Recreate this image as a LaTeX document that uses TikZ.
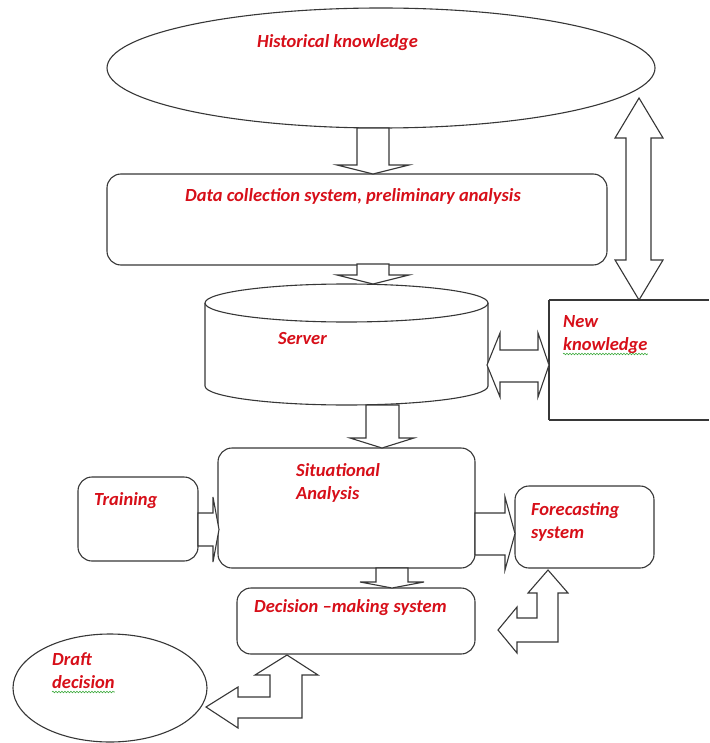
\documentclass[tikz,border=0pt]{standalone}
\usepackage{fontspec}
\setmainfont{Carlito}
\usetikzlibrary{decorations.pathmorphing}
\definecolor{lgray}{RGB}{55,55,55}
\definecolor{tred}{RGB}{215,15,25}
\definecolor{sqgreen}{RGB}{60,170,60}
\tikzset{
  shp/.style={draw=lgray, line width=1.1pt, fill=white},
  rbox/.style={shp, rounded corners=14pt},
  barrow/.style={draw=lgray, line width=1.1pt, fill=white, line join=miter},
  lbl/.style={anchor=base west, inner sep=0pt, text=tred, font=\bfseries\itshape\fontsize{18.5}{20}\selectfont},
  squig/.style={draw=sqgreen, line width=0.6pt, decorate, decoration={snake, amplitude=0.8pt, segment length=3pt}},
  edge/.style={draw=lgray, line width=1.1pt}
}
\begin{document}
\begin{tikzpicture}[x=1pt,y=-1pt]
\useasboundingbox (0,0) rectangle (709,743);
% shapes
\draw[shp] (381,68) ellipse [x radius=274, y radius=60];
\draw[rbox] (107,174) rectangle (607,265);
% cylinder
\draw[shp] (205,303) -- (205,386) arc [start angle=180, end angle=360, x radius=141.5, y radius=-19] -- (488,303);
\draw[shp] (346.5,303) ellipse [x radius=141.5, y radius=19];
% New knowledge box, cut by the right edge
\coordinate (nkA) at (549,300);
\coordinate (nkB) at (549,420);
\coordinate (nkC) at (709,300);
\coordinate (nkD) at (709,420);
\draw[edge] (nkA) -- (nkB);
\draw[edge] (nkA) -- (nkC);
\draw[edge] (nkB) -- (nkD);
\draw[rbox] (218,448) rectangle (475,568);
\draw[rbox] (78,477) rectangle (198,561);
\draw[rbox] (515,486) rectangle (654,568);
\draw[rbox] (237,588) rectangle (475,654);
\draw[shp] (110,688) ellipse [x radius=97, y radius=54];
% block arrows
\draw[barrow] (357,128) -- (389,128) -- (389,165) -- (409,165) -- (373,174) -- (337,165) -- (357,165) -- cycle;
\draw[barrow] (357,264) -- (389,264) -- (389,275) -- (409,275) -- (373,284) -- (337,275) -- (357,275) -- cycle;
\draw[barrow] (366,405) -- (399,405) -- (399,438) -- (414,438) -- (382,448) -- (350,438) -- (366,438) -- cycle;
\draw[barrow] (376,568) -- (408,568) -- (408,582) -- (424,582) -- (392,588) -- (360,582) -- (376,582) -- cycle;
\draw[barrow] (198,513) -- (213,513) -- (213,497) -- (219,529.5) -- (213,562) -- (213,546) -- (198,546) -- cycle;
\draw[barrow] (475,513) -- (505,513) -- (505,497) -- (515,533.5) -- (505,570) -- (505,555) -- (475,555) -- cycle;
\draw[barrow] (639,98) -- (663,138) -- (651,138) -- (651,260) -- (663,260) -- (639,300) -- (615,260) -- (626,260) -- (626,138) -- (615,138) -- cycle;
\draw[barrow] (487,365) -- (500,333) -- (500,350) -- (538,350) -- (538,333) -- (549,365) -- (538,397) -- (538,382) -- (500,382) -- (500,397) -- cycle;
\draw[barrow] (548,570) -- (568,593) -- (558,593) -- (558,642) -- (517,642) -- (517,653) -- (498,630) -- (517,607) -- (517,618) -- (537,618) -- (537,593) -- (528,593) -- cycle;
\draw[barrow] (287,655) -- (318,675) -- (302,675) -- (302,718) -- (238,718) -- (238,728) -- (206,707) -- (238,687) -- (238,697) -- (270,697) -- (270,675) -- (255,675) -- cycle;
% labels
\node[lbl] (hist) at (257,48) {Historical knowledge};
\node[lbl] (data) at (185,201) {Data collection system, preliminary analysis};
\node[lbl] (serv) at (278,344) {Server};
\node[lbl] (new) at (563,327) {New};
\node[lbl] (know) at (563,350) {knowledge};
\node[lbl] (sit) at (296,476) {Situational};
\node[lbl] (ana) at (296,499) {Analysis};
\node[lbl] (train) at (94,505) {Training};
\node[lbl] (fore) at (531,515) {Forecasting};
\node[lbl] (sys) at (531,538) {system};
\node[lbl] (dec) at (254,612) {Decision –making system};
\node[lbl] (draft) at (52,665) {Draft};
\node[lbl] (ddec) at (52,688) {decision};
\draw[squig] ([yshift=-4pt]know.base west) -- ([yshift=-4pt]know.base east);
\draw[squig] ([yshift=-4pt]ddec.base west) -- ([yshift=-4pt]ddec.base east);
\end{tikzpicture}
\end{document}
